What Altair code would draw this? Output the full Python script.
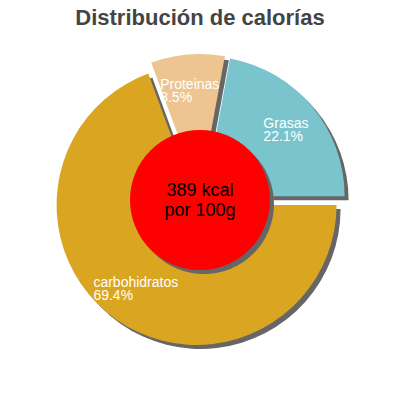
import altair as alt
import pandas as pd

# ---- data ----
categories = ["carbohidratos", "Proteinas", "Grasas"]
percents = [69.4, 8.5, 22.1]
colors = ["#DAA520", "#EEC591", "#7AC5CD"]
center_lines = ["389 kcal", "por 100g"]
title_text = "Distribución de calorías"

df = pd.DataFrame({"name": categories, "pct": percents, "order": list(range(len(categories)))})

# layout constants (plot-area pixels)
CX, CY = 192, 162
R = 140
EXPLODE = 6
SHADOW = 4
LABEL_R = 103
FONT = "Liberation Sans"

base = alt.Chart(df).transform_window(
    cum="sum(pct)", sort=[alt.SortField("order")]
).transform_joinaggregate(
    total="sum(pct)"
).transform_calculate(
    a0="PI/2 + 2*PI*(datum.cum - datum.pct)/datum.total",
    a1="PI/2 + 2*PI*datum.cum/datum.total",
).transform_calculate(
    mid="(datum.a0 + datum.a1)/2"
).transform_calculate(
    cx=f"{CX} + {EXPLODE}*sin(datum.mid)",
    cy=f"{CY} - {EXPLODE}*cos(datum.mid)",
    label="datum.name + '\\n' + format(datum.pct, '.1f') + '%'",
).transform_calculate(
    sx=f"datum.cx + {SHADOW}",
    sy=f"datum.cy + {SHADOW}",
    lx=f"datum.cx + {LABEL_R}*sin(datum.mid) - length(datum.name)*3.4",
    ly=f"datum.cy - {LABEL_R}*cos(datum.mid)",
)

color_scale = alt.Scale(domain=categories, range=colors)

shadows = base.mark_arc(outerRadius=R, color="#666666").encode(
    x=alt.X("sx:Q", scale=None),
    y=alt.Y("sy:Q", scale=None),
    theta=alt.Theta("a0:Q", scale=None),
    theta2="a1:Q",
)

slices = base.mark_arc(outerRadius=R).encode(
    x=alt.X("cx:Q", scale=None),
    y=alt.Y("cy:Q", scale=None),
    theta=alt.Theta("a0:Q", scale=None),
    theta2="a1:Q",
    color=alt.Color("name:N", scale=color_scale, legend=None),
)

labels = base.mark_text(
    align="left", baseline="middle", lineBreak="\n", lineHeight=13,
    fontSize=14, font=FONT, color="white", dy=-6
).encode(
    x=alt.X("lx:Q", scale=None),
    y=alt.Y("ly:Q", scale=None),
    text="label:N",
)

cdf = pd.DataFrame({"t": ["\n".join(center_lines)]})
center_base = alt.Chart(cdf)
circle_shadow = center_base.mark_arc(outerRadius=70, theta=0, theta2=6.2832, color="#666666").encode(
    x=alt.value(CX + SHADOW), y=alt.value(CY + SHADOW)
)
circle = center_base.mark_arc(outerRadius=70, theta=0, theta2=6.2832, color="#FF0000").encode(
    x=alt.value(CX), y=alt.value(CY)
)
center_text = center_base.mark_text(
    align="center", baseline="middle", lineBreak="\n", lineHeight=20,
    fontSize=18, font=FONT, color="black", dy=-9
).encode(x=alt.value(CX), y=alt.value(CY), text="t:N")

chart = alt.layer(
    shadows, slices, labels, circle_shadow, circle, center_text
).properties(
    width=384, height=354,
    autosize=alt.AutoSizeParams(type="none"),
    padding={"left": 0, "top": 30, "right": 0, "bottom": 0},
    title=alt.TitleParams(
        title_text, fontSize=22, fontWeight="bold", color="#444444",
        font=FONT, anchor="middle", offset=8,
    ),
).configure_view(stroke=None)

chart.save("out.html", embed_options={"renderer": "svg", "actions": False})
